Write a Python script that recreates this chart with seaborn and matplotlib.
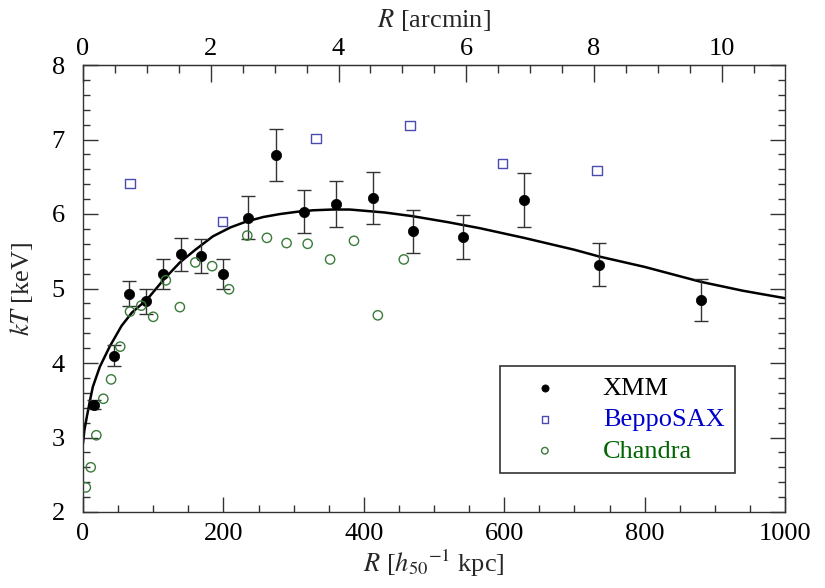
import numpy as np
import pandas as pd
import matplotlib
matplotlib.use("Agg")
import matplotlib.pyplot as plt
from matplotlib.ticker import MultipleLocator, FixedLocator
import seaborn as sns

# XMM temperature profile with errors
xmm_r = [15, 44, 66, 90, 114, 140, 168, 199, 235, 275, 315, 360, 413, 470, 541, 628, 735, 880]
xmm_kt = [3.44, 4.10, 4.93, 4.83, 5.19, 5.46, 5.44, 5.20, 5.95, 6.79, 6.03, 6.13, 6.22, 5.77, 5.69, 6.19, 5.32, 4.85]
xmm_err = [0.06, 0.14, 0.17, 0.17, 0.20, 0.22, 0.23, 0.20, 0.29, 0.35, 0.29, 0.31, 0.35, 0.29, 0.30, 0.36, 0.29, 0.28]

# BeppoSAX
sax_r = [67, 199, 332, 466, 598, 732]
sax_kt = [6.41, 5.90, 7.01, 7.19, 6.68, 6.58]

# Chandra
chandra_r = [4, 11, 19, 29, 40, 53, 67, 83, 100, 118, 138, 160, 184, 208, 234, 262, 290, 320, 352, 386, 420, 457]
chandra_kt = [2.33, 2.60, 3.03, 3.52, 3.78, 4.22, 4.69, 4.77, 4.62, 5.11, 4.75, 5.35, 5.30, 4.99, 5.71, 5.68,
              5.61, 5.60, 5.39, 5.64, 4.64, 5.39]

# model curve
model_r = [0, 2, 5.5, 10, 14, 24, 38, 55, 70, 91, 115, 138, 160, 185, 210, 233, 257, 281, 305, 328, 355, 380,
           405, 430, 470, 520, 565, 628, 700, 735, 800, 880, 940, 1000]
model_kt = [2.92, 3.10, 3.28, 3.50, 3.68, 3.95, 4.22, 4.50, 4.68, 4.85, 5.12, 5.35, 5.52, 5.70, 5.82, 5.90,
            5.96, 6.00, 6.03, 6.05, 6.06, 6.06, 6.04, 6.02, 5.97, 5.89, 5.81, 5.68, 5.52, 5.43, 5.29, 5.09, 4.97, 4.87]

KPC_PER_ARCMIN = 91.0

sns.set_style("ticks")
plt.rcParams['font.family'] = ['Liberation Serif', 'DejaVu Serif']
plt.rcParams['mathtext.fontset'] = 'stix'

fig = plt.figure(figsize=(8.25, 5.88), dpi=100)
ax = fig.add_axes([83 / 825, 76 / 588, 702 / 825, 447 / 588])

sns.lineplot(x=model_r, y=model_kt, color='black', linewidth=1.8, ax=ax, sort=False)
ax.errorbar(xmm_r, xmm_kt, yerr=xmm_err, fmt='none', ecolor='#333333', elinewidth=1.0,
            capsize=5, capthick=1.0, zorder=3)
sns.scatterplot(x=xmm_r, y=xmm_kt, color='black', marker='o', s=55, edgecolor='black',
                linewidth=0.5, ax=ax, label='XMM', zorder=4)
sns.scatterplot(x=sax_r, y=sax_kt, marker='s', s=45, facecolor='none', edgecolor='#4a4ab0',
                linewidth=1.0, ax=ax, label='BeppoSAX', zorder=4)
sns.scatterplot(x=chandra_r, y=chandra_kt, marker='o', s=45, facecolor='none', edgecolor='#3a7a3a',
                linewidth=1.0, ax=ax, label='Chandra', zorder=4)

ax.set_xlim(0, 1000)
ax.set_ylim(2, 8)
ax.xaxis.set_major_locator(MultipleLocator(200))
ax.xaxis.set_minor_locator(MultipleLocator(50))
ax.yaxis.set_major_locator(MultipleLocator(1))
ax.yaxis.set_minor_locator(MultipleLocator(0.2))
ax.tick_params(which='both', direction='in', right=True, labelsize=19, colors='#333333',
               labelcolor='black', width=1.0)
ax.tick_params(which='major', length=11)
ax.tick_params(which='minor', length=5)
ax.tick_params(axis='x', pad=8)
ax.tick_params(axis='y', pad=13)
for s in ax.spines.values():
    s.set_color('#333333')
    s.set_linewidth(1.0)

ax.set_xlabel(r'$R$ [$h_{50}{}^{-1}$ kpc]', fontsize=19, labelpad=2)
ax.set_ylabel(r'$kT$ [keV]', fontsize=19, labelpad=12)

top = ax.secondary_xaxis('top', functions=(lambda x: x / KPC_PER_ARCMIN, lambda a: a * KPC_PER_ARCMIN))
top.xaxis.set_major_locator(FixedLocator([0, 2, 4, 6, 8, 10]))
top.xaxis.set_minor_locator(FixedLocator(np.arange(0.5, 11.0, 0.5)))
top.tick_params(which='both', direction='in', labelsize=19, colors='#333333', labelcolor='black', width=1.0)
top.tick_params(which='major', length=12)
top.tick_params(which='minor', length=6)
top.set_xlabel(r'$R$ [arcmin]', fontsize=19, labelpad=8)

leg = ax.legend(loc='upper left', bbox_to_anchor=(0.594, 0.327), fontsize=19, frameon=True,
                fancybox=False, edgecolor='black', handletextpad=0.9, borderpad=0.4,
                labelspacing=0.3, markerscale=0.7, borderaxespad=0, handlelength=2.6)
leg.get_frame().set_linewidth(1.2)
for txt, col in zip(leg.get_texts(), ['black', '#0000cc', '#006400']):
    txt.set_color(col)

fig.savefig('out.png', dpi=100)
